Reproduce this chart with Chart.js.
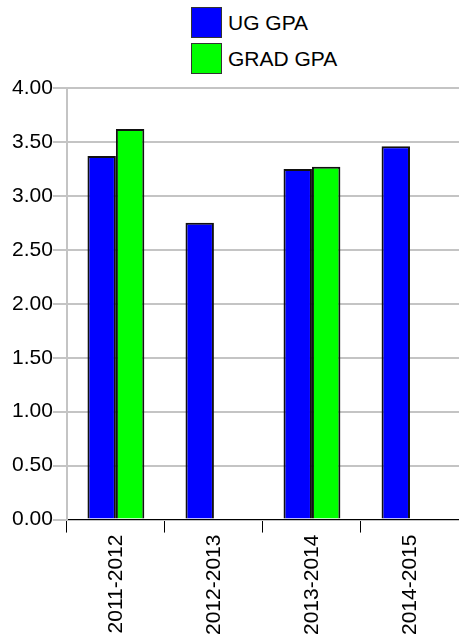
<!DOCTYPE html>
<html>
<head>
<meta charset="utf-8">
<script src="https://cdn.jsdelivr.net/npm/chart.js@4/dist/chart.umd.min.js"></script>
<style>
  html, body { margin: 0; padding: 0; background: #fff; }
  #wrap { position: relative; width: 459px; height: 638px; }
  #c { position: absolute; left: 0; top: 0; }
  #legend { position: absolute; left: 186px; top: 0; width: 164px; height: 86px; background: #fff;
            font-family: "Liberation Sans", Arial, sans-serif; font-size: 21px; color: #000; }
  .item { position: absolute; left: 5px; height: 31px; display: flex; align-items: center; }
  .box { width: 29px; height: 29px; border: 1px solid #333; box-sizing: content-box; margin-right: 6px; }
</style>
</head>
<body>
<div id="wrap">
  <canvas id="c" width="459" height="638"></canvas>
  <div id="legend"></div>
</div>
<script>
const categories = ["2011-2012", "2012-2013", "2013-2014", "2014-2015"];
const ugGPA = [3.37, 2.75, 3.25, 3.46];
const gradGPA = [3.62, null, 3.27, null];
const seriesNames = ["UG GPA", "GRAD GPA"];
const seriesColors = ["#0000ff", "#00ff00"];

const chart = new Chart(document.getElementById('c'), {
  type: 'bar',
  data: {
    labels: categories,
    datasets: [
      { label: seriesNames[0], data: ugGPA, backgroundColor: seriesColors[0], borderColor: '#111', borderWidth: 2 },
      { label: seriesNames[1], data: gradGPA, backgroundColor: seriesColors[1], borderColor: '#111', borderWidth: 2 }
    ]
  },
  options: {
    responsive: false,
    animation: false,
    devicePixelRatio: 1,
    layout: { padding: { top: 88, left: 12, right: 0, bottom: 1 } },
    datasets: { bar: { categoryPercentage: 0.58, barPercentage: 1.0 } },
    plugins: { legend: { display: false }, tooltip: { enabled: false } },
    scales: {
      x: {
        grid: { offset: true, drawOnChartArea: false, drawTicks: true, tickLength: 13, color: '#000', lineWidth: 1 },
        border: { color: '#000', width: 1 },
        ticks: { color: '#000', maxRotation: 90, minRotation: 90, padding: 2,
                 font: { family: 'Liberation Sans', size: 21 } }
      },
      y: {
        min: 0, max: 4,
        grid: { color: '#c4c4c4', lineWidth: 2, tickLength: 14 },
        border: { color: '#c4c4c4', width: 2 },
        ticks: { stepSize: 0.5, color: '#000', padding: 0,
                 font: { family: 'Liberation Sans', size: 21 },
                 callback: v => Number(v).toFixed(2) }
      }
    }
  }
});

// HTML legend built from the chart's datasets
const legend = document.getElementById('legend');
chart.data.datasets.forEach((ds, i) => {
  const it = document.createElement('div');
  it.className = 'item';
  it.style.top = (7 + i * 36) + 'px';
  const b = document.createElement('div');
  b.className = 'box';
  b.style.background = ds.backgroundColor;
  const t = document.createElement('span');
  t.textContent = ds.label;
  it.appendChild(b); it.appendChild(t);
  legend.appendChild(it);
});
</script>
</body>
</html>
